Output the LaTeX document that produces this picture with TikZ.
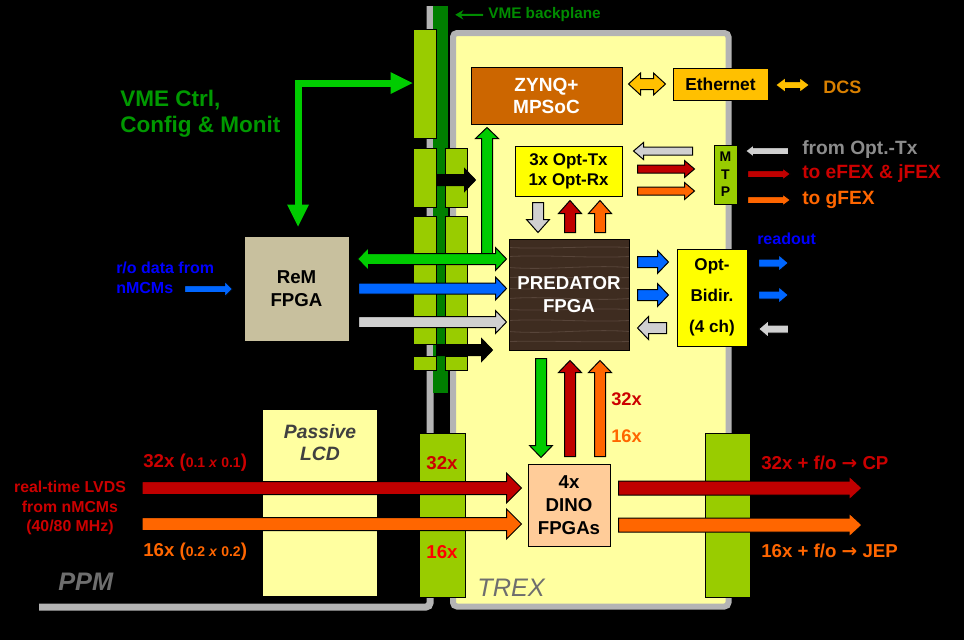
\documentclass[tikz,border=0pt]{standalone}
\usepackage{fontspec}
\setmainfont{Liberation Sans}
\newfontfamily\arrowfont{DejaVu Sans}
\usetikzlibrary{calc,arrows.meta}

\definecolor{trexyellow}{HTML}{FFFFA0}
\definecolor{conngreen}{HTML}{99CC00}
\definecolor{vmedark}{HTML}{007F00}
\definecolor{vmetext}{HTML}{008C00}
\definecolor{ctrltext}{HTML}{009900}
\definecolor{arrgreen}{HTML}{00CC00}
\definecolor{arrblue}{HTML}{0066FF}
\definecolor{textblue}{HTML}{0000FF}
\definecolor{arrgray}{HTML}{D0D0D0}
\definecolor{textgray}{HTML}{8C8C8C}
\definecolor{arrred}{HTML}{C00000}
\definecolor{textred}{HTML}{CC0000}
\definecolor{arrorange}{HTML}{FF6600}
\definecolor{ethyellow}{HTML}{FFC000}
\definecolor{dcsorange}{HTML}{D98000}
\definecolor{zynqorange}{HTML}{CC6600}
\definecolor{remkhaki}{HTML}{C8C09E}
\definecolor{dinopeach}{HTML}{FFCC99}
\definecolor{optyellow}{HTML}{FFFF00}
\definecolor{wood}{HTML}{3E2C20}
\definecolor{woodlight}{HTML}{58453A}
\definecolor{framegray}{HTML}{B4B4B4}
\definecolor{labelgray}{HTML}{6E6E6E}
\definecolor{lcdtext}{HTML}{404040}

\newcommand\fsz[2]{\fontsize{#1}{#2}\selectfont\bfseries}
\newcommand\thickto{{\arrowfont\bfseries →}}

\tikzset{
  arrshaft/.store in=\arrS, arrhead/.store in=\arrH, arrtip/.store in=\arrL,
  arrshaft=10, arrhead=23, arrtip=11,
  arrsmall/.style={arrshaft=8, arrhead=17, arrtip=10},
  arrmid/.style={arrshaft=11, arrhead=23, arrtip=11},
  arrbig/.style={arrshaft=13, arrhead=30, arrtip=15},
  % block arrow from start to target
  fat/.style={draw=black, line width=0.75pt, line join=miter, fill=#1,
    to path={
      ($(\tikztostart)!\arrS*0.375pt!90:(\tikztotarget)$)
      -- ($(\tikztotarget)!\arrL*0.75pt!(\tikztostart)!\arrS*0.375pt!90:(\tikztotarget)$)
      -- ($(\tikztotarget)!\arrL*0.75pt!(\tikztostart)!\arrH*0.375pt!90:(\tikztotarget)$)
      -- (\tikztotarget)
      -- ($(\tikztotarget)!\arrL*0.75pt!(\tikztostart)!\arrH*0.375pt!-90:(\tikztotarget)$)
      -- ($(\tikztotarget)!\arrL*0.75pt!(\tikztostart)!\arrS*0.375pt!-90:(\tikztotarget)$)
      -- ($(\tikztostart)!\arrS*0.375pt!-90:(\tikztotarget)$)
      -- cycle}},
  fat/.default=arrgreen,
  % block arrow with two heads
  fatboth/.style={draw=black, line width=0.75pt, line join=miter, fill=#1,
    to path={
      -- ($(\tikztostart)!\arrL*0.75pt!(\tikztotarget)!\arrH*0.375pt!90:(\tikztotarget)$)
      -- ($(\tikztostart)!\arrL*0.75pt!(\tikztotarget)!\arrS*0.375pt!90:(\tikztotarget)$)
      -- ($(\tikztotarget)!\arrL*0.75pt!(\tikztostart)!\arrS*0.375pt!90:(\tikztotarget)$)
      -- ($(\tikztotarget)!\arrL*0.75pt!(\tikztostart)!\arrH*0.375pt!90:(\tikztotarget)$)
      -- (\tikztotarget)
      -- ($(\tikztotarget)!\arrL*0.75pt!(\tikztostart)!\arrH*0.375pt!-90:(\tikztotarget)$)
      -- ($(\tikztotarget)!\arrL*0.75pt!(\tikztostart)!\arrS*0.375pt!-90:(\tikztotarget)$)
      -- ($(\tikztostart)!\arrL*0.75pt!(\tikztotarget)!\arrS*0.375pt!-90:(\tikztotarget)$)
      -- ($(\tikztostart)!\arrL*0.75pt!(\tikztotarget)!\arrH*0.375pt!-90:(\tikztotarget)$)
      -- cycle}},
  fatboth/.default=ethyellow,
  sz/.style 2 args={minimum width=#1*0.75pt, minimum height=#2*0.75pt},
  chip/.style={draw=black, line width=0.75pt, inner sep=0pt, align=center},
  conn/.style={draw=black, line width=0.75pt, fill=conngreen, inner sep=0pt},
  lbl/.style={inner sep=0pt, anchor=west},
}

\begin{document}
\begin{tikzpicture}[x=0.75pt, y=-0.75pt]
    \useasboundingbox (0,0) rectangle (964,640);
    \fill[black] (0,0) rectangle (964,640);

    % PPM and TREX outlines, VME backplane
    \draw[framegray, line width=5.25pt, rounded corners=3pt] (39,607) -- (430,607) -- (430,6);
    \draw[framegray, line width=4.5pt, fill=trexyellow, rounded corners=3pt] (453,33) rectangle (728.5,606.5);
    \node[fill=vmedark, inner sep=0pt, sz={15}{387}] (vme) at (440.5,199.5) {};

    % Connectors
    \node[conn, sz={23}{109}] (vmea) at (424.5,83.5) {};
    \node[conn, sz={23}{59}]  (vmeb) at (424.5,177.5) {};
    \node[conn, sz={23}{128}] (vmec) at (424.5,280) {};
    \node[conn, sz={23}{14}]  (vmed) at (424.5,363) {};
    \node[conn, sz={22}{59}]  (trxb) at (456,177.5) {};
    \node[conn, sz={22}{128}] (trxc) at (456,280) {};
    \node[conn, sz={22}{14}]  (trxd) at (456,363) {};
    \node[conn, sz={46}{164}] (rtmin) at (442,515) {};
    \node[conn, sz={45}{164}] (rtmout) at (727.5,515) {};

    % Boxes
    \node[fill=trexyellow, inner sep=0pt, sz={114}{186}] (lcd) at (320,503) {};
    \node[lcdtext, inner sep=0pt, align=center, font=\fontsize{14.5}{17}\selectfont\bfseries\itshape] (lcdlbl) at ($(lcd.north)+(0,33)$) {Passive\\LCD};
    \node[chip, fill=remkhaki, sz={105}{105}, font=\fsz{14}{17}] (rem) at (296.5,288.5) {ReM\\FPGA};
    \node[chip, fill=zynqorange, text=white, sz={151}{57}, font=\fsz{14.3}{16.5}] (zynq) at (546.5,95.5) {ZYNQ+\\MPSoC};
    \node[chip, fill=ethyellow, sz={95}{32}, font=\fsz{13}{15}] (eth) at (720.5,84) {Ethernet};
    \node[chip, fill=optyellow, sz={107}{50}, font=\fsz{12.7}{15}] (opttx) at (568.5,171) {3x Opt-Tx\\1x Opt-Rx};
    \node[chip, fill=conngreen, sz={23}{59}, font=\fsz{10.5}{13}] (mtp) at (725.5,174.5) {M\\T\\P};
    \node[chip, fill=wood, text=white, sz={120}{111}, font=\fsz{14}{17},
          path picture={
            \foreach \k/\d in {-47/2,-38/-2,-27/3,-17/-1,-6/2,4/-3,15/2,26/-2,37/3,47/-1}
              \draw[woodlight, line width=0.6pt]
                ($(path picture bounding box.west)+(0,\k)$) .. controls +(40,\d) and +(-40,-\d) ..
                ($(path picture bounding box.east)+(0,\k)$);
          }] (pred) at (569,294.5) {PREDATOR\\FPGA};
    \node[chip, fill=optyellow, sz={70}{97}, font=\fsz{12.8}{23.25}] (bidir) at (712,297.5) {Opt-\\Bidir.\\(4 ch)};
    \node[chip, fill=dinopeach, sz={82}{82}, font=\fsz{14}{17}] (dino) at (569,505) {4x\\DINO\\FPGAs};

    % VME control path
    \draw[arrgreen, line width=5.25pt] ($(rem.north)+(1.5,-29)$) |- ($(vmea.west)+(-20,-0.5)$);
    \draw[fat=arrgreen, draw=none, arrshaft=7, arrhead=22, arrtip=22] ($(rem.north)+(1.5,-31)$) to ($(rem.north)+(1.5,-9)$);
    \draw[fat=arrgreen, draw=none, arrshaft=7, arrhead=22, arrtip=22] ($(vmea.west)+(-22,-0.5)$) to ($(vmea.west)+(0,-0.5)$);

    % ReM <-> PREDATOR and ZYNQ
    \coordinate (vmelink) at (487,259);
    \draw[fat=arrgreen, arrmid] (vmelink) to ($(zynq.south -| vmelink)+(0,3)$);
    \draw[fatboth=arrgreen, arrmid] ($(rem.east |- vmelink)+(8,0)$) to ($(pred.west |- vmelink)+(-2,0)$);
    \draw[fat=arrblue, arrmid] ($(rem.east)+(9,0)$) to ($(pred.west |- rem.east)+(-2,0)$);
    \draw[fat=arrgray, arrmid] ($(rem.east)+(9,33.5)$) to ($(pred.west |- rem.east)+(-2,33.5)$);

    % Backplane into TREX
    \draw[fat=black, arrmid] ($(vmeb.east)+(0,2.5)$) to ($(vmeb.east)+(39,2.5)$);
    \draw[fat=black, arrmid] ($(vmec.south east)!0.5!(vmed.north east)$) to ++(56,0);

    % Opt-Tx <-> PREDATOR
    \draw[fat=arrgray, arrmid, arrtip=13] ($(opttx.south)+(-30.5,6)$) to ($(opttx.south |- pred.north)+(-30.5,-6)$);
    \draw[fat=arrred, arrmid, arrtip=13] ($(opttx.south |- pred.north)+(1.5,-6)$) to ($(opttx.south)+(1.5,4)$);
    \draw[fat=arrorange, arrmid, arrtip=13] ($(opttx.south |- pred.north)+(31.5,-6)$) to ($(opttx.south)+(31.5,4)$);

    % Opt-Tx <-> MTP <-> outside
    \draw[fat=arrgray, arrsmall] ($(mtp.west)+(-21,-23.5)$) to ($(opttx.east)+(11,-20)$);
    \draw[fat=arrred, arrsmall] ($(opttx.east)+(15,-2)$) to ($(mtp.west)+(-19,-5.5)$);
    \draw[fat=arrorange, arrsmall] ($(opttx.east)+(15,20)$) to ($(mtp.west)+(-19,16.5)$);
    \draw[fat=arrgray, arrshaft=7, arrhead=12, arrtip=8] ($(mtp.east)+(51,-23.5)$) to ($(mtp.east)+(8,-23.5)$);
    \draw[fat=arrred, arrshaft=7, arrhead=12, arrtip=8] ($(mtp.east)+(10,-0.5)$) to ($(mtp.east)+(53,-0.5)$);
    \draw[fat=arrorange, arrshaft=7, arrhead=12, arrtip=8] ($(mtp.east)+(10,25.5)$) to ($(mtp.east)+(53,25.5)$);

    % PREDATOR <-> Opt-Bidir <-> outside
    \draw[fat=arrblue, arrmid] ($(pred.east)+(8,-32.5)$) to ($(bidir.west)+(-8,-35.5)$);
    \draw[fat=arrblue, arrmid] ($(pred.east)+(8,0.5)$) to ($(bidir.west)+(-8,-2.5)$);
    \draw[fat=arrgray, arrmid] ($(bidir.west)+(-10,30.5)$) to ($(pred.east)+(8,33.5)$);
    \draw[fat=arrblue, arrsmall] ($(bidir.east)+(11,-34.5)$) to ($(bidir.east)+(41,-34.5)$);
    \draw[fat=arrblue, arrsmall] ($(bidir.east)+(11,-2.5)$) to ($(bidir.east)+(41,-2.5)$);
    \draw[fat=arrgray, arrsmall] ($(bidir.east)+(41,31.5)$) to ($(bidir.east)+(11,31.5)$);

    % ZYNQ <-> Ethernet <-> DCS
    \draw[fatboth=ethyellow, arrshaft=11, arrhead=22, arrtip=12] ($(zynq.east)+(6,-11.5)$) to ($(eth.west)+(-7,0)$);
    \draw[fatboth=ethyellow, arrshaft=7, arrhead=15, arrtip=10] ($(eth.east)+(7,1)$) to ($(eth.east)+(41,1)$);

    % PREDATOR <-> DINO
    \draw[fat=arrgreen, arrmid, arrtip=12] ($(pred.south)+(-28,8)$) to ($(dino.north)+(-28,-6)$);
    \draw[fat=arrred, arrmid, arrtip=12] ($(dino.north)+(1,-7)$) to ($(pred.south)+(1,10)$);
    \draw[fat=arrorange, arrmid, arrtip=12] ($(dino.north)+(31,-7)$) to ($(pred.south)+(31,10)$);

    % Real-time paths
    \coordinate (lvdsred) at (142,488);
    \coordinate (lvdsorg) at (142,524);
    \coordinate (cpout) at (862,488);
    \coordinate (jepout) at (862,525);
    \draw[fat=arrred, arrbig] (lvdsred) to ($(dino.west |- lvdsred)+(-6,0)$);
    \draw[fat=arrorange, arrbig] (lvdsorg) to ($(dino.west |- lvdsorg)+(-6,0)$);
    \draw[fat=arrred, arrshaft=14, arrhead=24, arrtip=13] ($(dino.east |- cpout)+(8,0)$) to (cpout);
    \draw[fat=arrorange, arrshaft=14, arrhead=24, arrtip=13] ($(dino.east |- jepout)+(8,0)$) to (jepout);

    % Labels
    \node[lbl, vmetext, font=\fsz{11.5}{13}] (vmelbl) at (488,15) {VME backplane};
    \draw[vmetext, line width=1.5pt, -{Stealth[length=6pt, width=7pt]}] ($(vmelbl.west)+(-5,0)$) to ($(vme.north east)+(7,9)$);
    \node[lbl, ctrltext, align=left, font=\fsz{16.9}{19.5}] (ctrllbl) at (120,114) {VME Ctrl,\\Config \& Monit};
    \node[lbl, textblue, align=left, font=\fsz{12}{15}] (rolbl) at (116,278) {r/o data from\\nMCMs};
    \draw[fat=arrblue, arrshaft=7, arrhead=16, arrtip=8] ($(rem.west)+(-59,0.5)$) to ($(rem.west)+(-11,0.5)$);
    \node[textred, align=center, inner sep=0pt, font=\fsz{11.9}{14.6}] (lvdslbl) at (70,508) {real-time LVDS\\from nMCMs\\(40/80 MHz)};
    \node[lbl, textred, font=\fsz{14}{16}] (redlbl) at (143,463) {32x ({\fsz{10.5}{12}0.1 \textit{x} 0.1})};
    \node[lbl, arrorange, font=\fsz{14}{16}] (orglbl) at (143,552) {16x ({\fsz{10.5}{12}0.2 \textit{x} 0.2})};
    \node[lbl, labelgray, font=\fontsize{19}{22}\selectfont\bfseries\itshape] (ppmlbl) at (58,582) {PPM};
    \node[lbl, labelgray, font=\fontsize{19}{22}\selectfont\itshape] (trexlbl) at (477,588) {TREX};
    \node[textred, inner sep=0pt, font=\fsz{14}{16}] (rtm32) at (rtmin |- redlbl) {32x};
    \node[red, inner sep=0pt, font=\fsz{14}{16}] (rtm16) at (rtmin |- orglbl) {16x};
    \node[lbl, textred, font=\fsz{13.7}{16}] (cnt32) at (611,399) {32x};
    \node[lbl, arrorange, font=\fsz{13.7}{16}] (cnt16) at (611,436) {16x};
    \node[lbl, textred, font=\fsz{14}{16}] (cplbl) at (761,463) {32x + f/o \thickto{} CP};
    \node[lbl, arrorange, font=\fsz{14}{16}] (jeplbl) at (761,551) {16x + f/o \thickto{} JEP};
    \node[lbl, textgray, font=\fsz{14.4}{16}] (fromlbl) at (802,150) {from Opt.-Tx};
    \node[lbl, textred, font=\fsz{14.4}{16}] (efexlbl) at (802,174) {to eFEX \& jFEX};
    \node[lbl, arrorange, font=\fsz{14.4}{16}] (gfexlbl) at (802,200) {to gFEX};
    \node[lbl, textblue, font=\fsz{12}{14}] (readlbl) at (757,239) {readout};
    \node[lbl, dcsorange, font=\fsz{13.5}{15}] (dcslbl) at (823,87) {DCS};
\end{tikzpicture}
\end{document}
